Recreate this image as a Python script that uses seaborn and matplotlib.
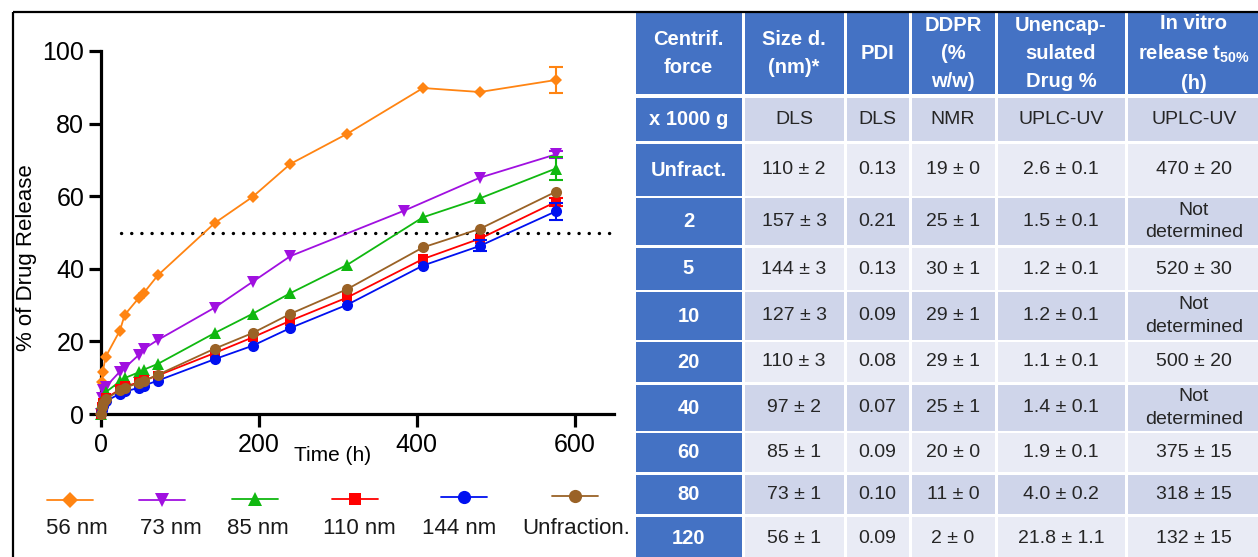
import numpy as np
import pandas as pd
import matplotlib
matplotlib.use("Agg")
import matplotlib.pyplot as plt
from matplotlib.patches import Rectangle
from matplotlib.lines import Line2D
import seaborn as sns

# ---------------- data ----------------
times = [0, 1, 2, 6, 24, 30, 48, 54, 72, 144, 192, 240, 312, 408, 480, 576]
times_73 = [0, 1, 2, 6, 24, 30, 48, 54, 72, 144, 192, 240, 384, 480, 576]

rel_56 = [0, 8.7, 11.5, 15.8, 23.0, 27.3, 32.0, 33.3, 38.2, 52.6, 59.8, 68.9, 77.2, 89.8, 88.7, 92.0]
rel_73 = [0, 4.5, 6.5, 7.5, 11.7, 12.7, 16.3, 17.9, 20.4, 29.3, 36.4, 43.5, 56.0, 65.1, 71.5]
rel_85 = [0, 3.0, 4.5, 6.0, 9.0, 9.9, 11.5, 12.2, 13.8, 22.3, 27.6, 33.3, 41.1, 54.2, 59.4, 67.6]
rel_110 = [0, 2.0, 3.0, 4.3, 6.8, 7.6, 8.7, 9.3, 10.6, 16.8, 21.1, 25.7, 32.1, 42.7, 48.3, 58.4]
rel_144 = [0.3, 1.2, 2.1, 3.5, 5.6, 6.2, 7.2, 7.8, 9.2, 15.1, 18.8, 23.7, 30.1, 40.9, 46.3, 55.8]
rel_unf = [0, 2.0, 3.0, 4.2, 6.5, 7.3, 8.5, 9.0, 10.8, 18.0, 22.3, 27.6, 34.4, 45.9, 51.0, 61.2]

err_56 = [0] * 15 + [3.5]
err_73 = [0] * 14 + [1.0]
err_85 = [0] * 15 + [3.1]
err_110 = [0] * 15 + [1.2]
err_144 = [0] * 14 + [1.5, 2.4]
err_unf = [0] * 16

series_labels = ["56 nm", "73 nm", "85 nm", "110 nm", "144 nm", "Unfraction."]
threshold = 50

x_ticks = [0, 200, 400, 600]
y_ticks = [0, 20, 40, 60, 80, 100]

# table
table_header = ["Centrif.\nforce", "Size d.\n(nm)*", "PDI", "DDPR\n(%\nw/w)",
                "Unencap-\nsulated\nDrug %", "In vitro\nrelease t$_{50\\%}$\n(h)"]
method_row = ["x 1000 g", "DLS", "DLS", "NMR", "UPLC-UV", "UPLC-UV"]
force = ["Unfract.", "2", "5", "10", "20", "40", "60", "80", "120"]
size_d = ["110 ± 2", "157 ± 3", "144 ± 3", "127 ± 3", "110 ± 3", "97 ± 2", "85 ± 1", "73 ± 1", "56 ± 1"]
pdi = ["0.13", "0.21", "0.13", "0.09", "0.08", "0.07", "0.09", "0.10", "0.09"]
ddpr = ["19 ± 0", "25 ± 1", "30 ± 1", "29 ± 1", "29 ± 1", "25 ± 1", "20 ± 0", "11 ± 0", "2 ± 0"]
unencap = ["2.6 ± 0.1", "1.5 ± 0.1", "1.2 ± 0.1", "1.2 ± 0.1", "1.1 ± 0.1", "1.4 ± 0.1",
           "1.9 ± 0.1", "4.0 ± 0.2", "21.8 ± 1.1"]
t50 = ["470 ± 20", "Not\ndetermined", "520 ± 30", "Not\ndetermined", "500 ± 20",
       "Not\ndetermined", "375 ± 15", "318 ± 15", "132 ± 15"]

# ---------------- style ----------------
sns.set_theme(style="ticks")
plt.rcParams["font.family"] = ["Liberation Sans", "DejaVu Sans"]
plt.rcParams["mathtext.default"] = "regular"

colors = ["#FF8412", "#A010E0", "#10B810", "#FF0000", "#0010F0", "#9A6226"]
markers = ["D", "v", "^", "s", "o", "o"]
msizes = [6.5, 8, 8, 7.5, 8, 8]

series = [
    (times, rel_56, err_56),
    (times_73, rel_73, err_73),
    (times, rel_85, err_85),
    (times, rel_110, err_110),
    (times, rel_144, err_144),
    (times, rel_unf, err_unf),
]

W, H = 1258, 557
fig = plt.figure(figsize=(W / 100, H / 100), dpi=100)

# overlay axes in pixel coordinates for table / frame / legend
ax_t = fig.add_axes([0, 0, 1, 1], zorder=0)
ax_t.set_xlim(0, W)
ax_t.set_ylim(H, 0)
ax_t.axis("off")

ax = fig.add_axes([101 / W, (H - 414) / H, 513 / W, 363 / H], zorder=2)
ax.patch.set_alpha(0)

plot_order = [0, 1, 2, 5, 3, 4]
for i in plot_order:
    t, v, e = series[i]
    df = pd.DataFrame({"Time (h)": t, "Release": v})
    sns.lineplot(data=df, x="Time (h)", y="Release", ax=ax, color=colors[i],
                 marker=markers[i], markersize=msizes[i], markeredgewidth=0,
                 linewidth=1.3, clip_on=False, zorder=3 + i)
    e = np.asarray(e, dtype=float)
    m = e > 0
    if m.any():
        ax.errorbar(np.asarray(t)[m], np.asarray(v)[m], yerr=e[m], fmt="none",
                    ecolor=colors[i], elinewidth=1.5, capsize=5, capthick=1.5,
                    clip_on=False, zorder=3 + i)

ax.plot([25, 645], [threshold, threshold], color="black", lw=2.4,
        ls=(0, (0.05, 3.0)), dash_capstyle="round", zorder=2, clip_on=False)

ax.set_xlim(0, 650)
ax.set_ylim(0, 100)
ax.set_xticks(x_ticks)
ax.set_yticks(y_ticks)
sns.despine(ax=ax)
for s in ["left", "bottom"]:
    ax.spines[s].set_linewidth(2.3)
    ax.spines[s].set_color("black")
ax.tick_params(axis="both", direction="out", length=9, width=2.3,
               labelsize=18, color="black", labelcolor="black")
ax.tick_params(axis="x", pad=5)
ax.tick_params(axis="y", pad=3)
ax.set_xlabel("Time (h)", fontsize=15, color="black")
ax.xaxis.set_label_coords(0.452, -0.088)
ax.set_ylabel("% of Drug Release", fontsize=16, color="black")
ax.yaxis.set_label_coords(-0.125, 0.43)

# ---------------- legend (handle above label) ----------------
leg_hx = [70, 162, 255, 355, 464, 575]
leg_hy = [500, 500, 499, 499, 497, 496]
leg_tx = [77, 171, 258, 359, 459, 576]
for i, lab in enumerate(series_labels):
    ax_t.add_line(Line2D([leg_hx[i] - 23, leg_hx[i] + 23], [leg_hy[i], leg_hy[i]],
                         color=colors[i], lw=1.3))
    ax_t.add_line(Line2D([leg_hx[i]], [leg_hy[i]], color=colors[i], marker=markers[i],
                         markersize=msizes[i] + 1.5, markeredgewidth=0, ls="none"))
    ax_t.text(leg_tx[i], 529, lab, ha="center", va="center", fontsize=16, color="#1a1a1a")

# ---------------- outer frame ----------------
ax_t.add_patch(Rectangle((13, 12), 1400, 700, fill=False, lw=1.6, ec="black", zorder=10))

# ---------------- table ----------------
col_edges = [634, 743, 845, 910, 996, 1126, 1262]
row_edges = [(13, 94), (98, 141), (144, 196), (198, 245), (248, 290), (292, 340),
             (342, 382), (385, 431), (433, 472), (475, 514), (517, 560)]
blue = "#4472C4"
dark = "#CFD5EA"
light = "#E9EBF5"
gap = 1.5

body_cols = [force, size_d, pdi, ddpr, unencap, t50]
rows = [table_header, method_row] + [[c[r] for c in body_cols] for r in range(len(force))]

for r, (y0, y1) in enumerate(row_edges):
    for c in range(6):
        x0, x1 = col_edges[c] + gap, col_edges[c + 1] - gap
        if r == 0 or c == 0:
            fc = blue
        else:
            fc = dark if (r % 2 == 1) else light
        ax_t.add_patch(Rectangle((x0, y0), x1 - x0, y1 - y0, fc=fc, ec="none", zorder=1))
        txt = rows[r][c]
        xc = (x0 + x1) / 2
        yc = (y0 + y1) / 2
        if r == 0 or c == 0:
            ax_t.text(xc, yc, txt, ha="center", va="center", fontsize=14.5, color="white",
                      fontweight="bold", linespacing=1.6, zorder=2)
        else:
            ax_t.text(xc, yc, txt, ha="center", va="center", fontsize=14, color="#262626",
                      linespacing=1.45, zorder=2)

fig.savefig("out.png", dpi=100)
